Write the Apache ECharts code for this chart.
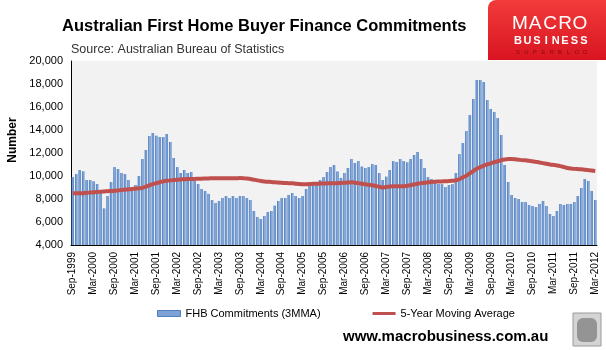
<!DOCTYPE html>
<html>
<head>
<meta charset="utf-8">
<script src="https://cdn.jsdelivr.net/npm/echarts@6/dist/echarts.min.js"></script>
<style>
  html, body { margin: 0; padding: 0; background: #fff; }
  #chart { width: 606px; height: 350px; }
</style>
</head>
<body>
<div id="chart"></div>
<script>
// Monthly first home buyer finance commitments, Sep-1999 .. Mar-2012
const startYear = 1999;
const startMonth = 8; // September (0-based)
const monthCount = 151;
const monthNames = ['Jan','Feb','Mar','Apr','May','Jun','Jul','Aug','Sep','Oct','Nov','Dec'];

// FHB commitments, 3-month moving average
const fhbCommitments = [
  9910, 10170, 10520, 10410, 9650, 9650, 9540, 9300, 8650, 7190,
  8260, 9480, 10780, 10610, 10260, 10170, 9650, 8850, 9220, 10000,
  11480, 12260, 13480, 13740, 13510, 13390, 13390, 13650, 12960, 11570,
  10780, 10260, 10520, 10260, 10350, 9650, 9300, 8870, 8700, 8450,
  7910, 7650, 7830, 8090, 8260, 8090, 8260, 8090, 8260, 8260,
  8090, 7910, 6960, 6440, 6260, 6520, 6870, 6960, 7430, 7830,
  8090, 8090, 8350, 8520, 8260, 8090, 8260, 8870, 9390, 9480,
  9480, 9650, 9910, 10350, 10780, 10960, 10400, 9830, 10260, 10700,
  11480, 11130, 11300, 10830, 10700, 10780, 11040, 10960, 10260, 9650,
  9950, 10520, 11300, 11220, 11480, 11300, 11200, 11480, 11830, 12090,
  11480, 10700, 9910, 9740, 9390, 9300, 9300, 9040, 9220, 9300,
  10260, 11910, 12870, 13910, 15300, 16700, 18350, 18350, 18170, 16610,
  15830, 15570, 15040, 13570, 10960, 9480, 8350, 8090, 8000, 7740,
  7740, 7480, 7390, 7300, 7570, 7830, 7390, 6700, 6520, 6960,
  7570, 7480, 7570, 7570, 7740, 8260, 8960, 9740, 9570, 8700,
  7910
];

// 5-year moving average
const movingAverage5y = [
  8490, 8500, 8500, 8510, 8540, 8560, 8580, 8610, 8640, 8660,
  8680, 8700, 8720, 8750, 8780, 8810, 8840, 8870, 8900, 8930,
  8970, 9080, 9190, 9290, 9380, 9460, 9530, 9580, 9620, 9650,
  9680, 9700, 9720, 9740, 9740, 9750, 9760, 9770, 9780, 9790,
  9800, 9800, 9800, 9800, 9800, 9800, 9800, 9810, 9820, 9810,
  9780, 9740, 9680, 9620, 9570, 9530, 9500, 9480, 9450, 9430,
  9410, 9390, 9370, 9360, 9330, 9300, 9280, 9290, 9300, 9320,
  9330, 9340, 9350, 9360, 9360, 9370, 9380, 9390, 9410, 9430,
  9450, 9420, 9380, 9330, 9280, 9230, 9190, 9130, 9060, 9000,
  9040, 9080, 9100, 9100, 9110, 9110, 9150, 9200, 9260, 9330,
  9380, 9420, 9450, 9480, 9510, 9520, 9530, 9540, 9560, 9590,
  9620, 9720, 9880, 10030, 10230, 10430, 10640, 10770, 10900, 11010,
  11100, 11200, 11280, 11380, 11440, 11470, 11470, 11450, 11420, 11380,
  11360, 11320, 11280, 11230, 11180, 11120, 11060, 11000, 10960, 10920,
  10860, 10780, 10700, 10650, 10620, 10600, 10580, 10550, 10510, 10470,
  10440
];

const yTicks = { min: 4000, max: 20000, step: 2000 };
const seriesNames = ['FHB Commitments (3MMA)', '5-Year Moving Average'];

const categories = [];
for (let i = 0; i < monthCount; i++) {
  const m = (startMonth + i) % 12;
  const y = startYear + Math.floor((startMonth + i) / 12);
  categories.push(monthNames[m] + '-' + y);
}

const FONT = '"Liberation Sans", Arial, sans-serif';
const chart = echarts.init(document.getElementById('chart'), null, { renderer: 'canvas' });

// Logo letters laid out one by one for letter spacing
function spacedText(str, x0, pitch, y, style) {
  return str.split('').map((ch, i) => ({
    type: 'text', x: x0 + i * pitch, y: y,
    style: Object.assign({ text: ch, align: 'center', verticalAlign: 'middle' }, style)
  }));
}

const logo = [
  {
    type: 'rect', shape: { x: 488, y: 0, width: 118, height: 60, r: [8, 0, 0, 0] },
    style: { fill: new echarts.graphic.LinearGradient(0, 0, 0, 1, [
      { offset: 0, color: '#f23b3b' }, { offset: 1, color: '#d81420' }
    ]) }
  }
].concat(
  spacedText('MACRO', 520, 15, 24, { fill: '#fff', font: '300 19px ' + FONT }),
  spacedText('BUSINESS', 518, 9.4, 40.5, { fill: '#fff', font: 'bold 11px ' + FONT }),
  spacedText('SUPERBLOG', 518, 8.4, 52.5, { fill: '#8a0a10', font: '6px ' + FONT })
);

const wolf = [
  { type: 'rect', shape: { x: 573, y: 313, width: 28, height: 33 },
    style: { fill: '#d4d4d4', stroke: '#9a9a9a', lineWidth: 1 } },
  { type: 'rect', shape: { x: 577, y: 318, width: 20, height: 24, r: 6 },
    style: { fill: '#949494' } }
];

// Legend icon for the line: thin bar inside a 6px-tall box
const lineIcon = 'path://M0 0L0.01 0Z M0 1.5L23 1.5L23 4.5L0 4.5Z M0 6L0.01 6Z';

chart.setOption({
  backgroundColor: '#fff',
  animation: false,
  title: [
    { text: 'Australian First Home Buyer Finance Commitments', left: 57, top: 13,
      textStyle: { fontFamily: FONT, fontSize: 16.5, fontWeight: 'bold', color: '#000' } },
    { text: 'Source: Australian Bureau of Statistics', left: 66, top: 38,
      textStyle: { fontFamily: FONT, fontSize: 12.5, fontWeight: 'normal', color: '#333' } },
    { text: 'www.macrobusiness.com.au', left: 338, top: 324,
      textStyle: { fontFamily: FONT, fontSize: 15, fontWeight: 'bold', color: '#000' } }
  ],
  graphic: logo.concat(wolf, [
    { type: 'text', x: 13, y: 140, rotation: Math.PI / 2,
      style: { text: 'Number', font: 'bold 12px ' + FONT, fill: '#000',
               align: 'center', verticalAlign: 'middle' } }
  ]),
  legend: {
    left: 152, top: 303, itemWidth: 23, itemGap: 52, itemHeight: 6,
    textStyle: { fontFamily: FONT, fontSize: 11, color: '#000' },
    data: [
      { name: seriesNames[0], icon: 'rect', itemStyle: { color: '#7ea2d6', borderColor: '#4f7fc0', borderWidth: 1 } },
      { name: seriesNames[1], icon: lineIcon, itemStyle: { color: '#c0504d', borderWidth: 0 } }
    ]
  },
  grid: { left: 71, right: 9, top: 61, bottom: 105, show: true,
          backgroundColor: '#f2f2f2', borderWidth: 0 },
  xAxis: {
    type: 'category', data: categories, boundaryGap: true,
    axisLine: { lineStyle: { color: '#000', width: 1 } },
    axisTick: { show: false },
    axisLabel: { interval: 5, rotate: 90, fontFamily: FONT, fontSize: 10, color: '#000', margin: 7 }
  },
  yAxis: {
    type: 'value', min: yTicks.min, max: yTicks.max, interval: yTicks.step,
    axisLine: { show: true, lineStyle: { color: '#000', width: 1 } },
    axisTick: { show: false },
    splitLine: { show: false },
    axisLabel: { fontFamily: FONT, fontSize: 11, color: '#000', margin: 8,
      formatter: v => v.toLocaleString('en-US') }
  },
  series: [
    {
      name: seriesNames[0], type: 'bar', data: fhbCommitments,
      barCategoryGap: '28%',
      itemStyle: { color: new echarts.graphic.LinearGradient(0, 0, 1, 0, [
        { offset: 0, color: '#3f70b5' }, { offset: 0.55, color: '#88acde' }, { offset: 1, color: '#4a7cc0' }
      ]) }
    },
    {
      name: seriesNames[1], type: 'line', data: movingAverage5y,
      symbol: 'none', smooth: 0.3,
      lineStyle: { color: '#c0504d', width: 4 },
      itemStyle: { color: '#c0504d' }, z: 3
    }
  ]
});
</script>
</body>
</html>
